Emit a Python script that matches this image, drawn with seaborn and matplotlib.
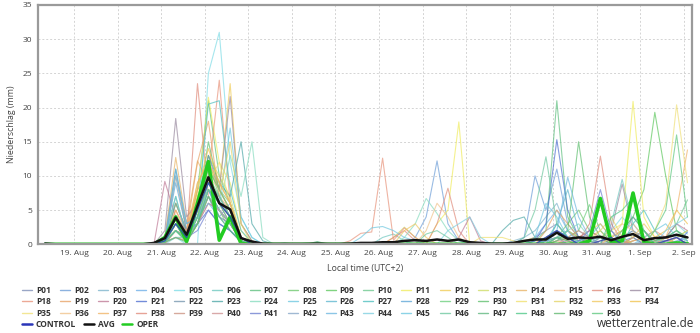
import numpy as np
import pandas as pd
import matplotlib
matplotlib.use("Agg")
import matplotlib.pyplot as plt
from matplotlib.lines import Line2D
import seaborn as sns

# ---------------- data (6-hourly steps, step 0 = 18 Aug 08:00 local) ----------------
n_steps = 60
start_time = "2025-08-18 08:00"

# each member: list of (first step index, values...) segments
P01 = [(0, [0.2]), (10, [0, 0.5, 3, 0.5, 4, 8, 5, 3, 0.5, 0, 0]), (22, [0.2]),
       (42, [0, 0, 0.5, 1, 2, 3, 1, 0.5, 0, 1, 2, 0.5, 0, 0, 1, 0.5, 0, 0])]
P02 = [(10, [0, 1, 11, 2, 3, 7, 4, 6, 1, 0.3, 0]), (34, [1, 4, 12.2, 3, 0.5]),
       (42, [0, 0, 1, 10, 5, 11, 3, 1, 0.5, 0, 0, 1, 2, 1, 0, 0, 0.5, 1])]
P03 = [(10, [0, 0.3, 1, 0.5, 4, 8, 5, 3, 0.5, 0, 0]),
       (42, [0, 0.5, 1, 2, 4, 6, 2, 1, 0, 0, 0.5, 1, 0, 0, 0, 1, 2, 1])]
P04 = [(10, [0, 0.3, 4, 2, 3, 7, 3, 2, 0.5, 0, 0]),
       (42, [0, 0, 0, 1, 3, 5, 2, 0.5, 1, 3, 1, 0, 0, 0.5, 1, 0, 0, 0])]
P05 = [(10, [0, 0, 1, 0, 0, 25, 31, 12, 4, 1, 0]),
       (42, [0, 0, 0, 0, 1, 2, 1, 0, 0.5, 1, 2, 4, 2, 0.5, 0, 1, 3, 1.5])]
P06 = [(10, [0, 0.3, 3, 1, 4, 8, 6, 4, 1, 0.3, 0]), (25, [0.3]), (31, [1, 1.5, 0.5]),
       (42, [0, 0, 0, 0.5, 1, 2, 0.5, 0, 0, 0, 3, 9.5, 3, 1, 0, 0.5, 1, 0])]
P07 = [(10, [0, 1, 7, 1, 8, 21, 10, 6, 1, 0, 0]),
       (42, [0, 0, 0, 0.5, 2, 21, 4, 1, 0.5, 0, 0, 0, 0.5, 1, 0, 0, 0, 0])]
P08 = [(10, [0, 0.3, 2, 0.5, 3, 10, 7, 4, 0.5, 0, 0]),
       (42, [0, 0, 0, 0, 0.5, 1, 3, 5, 2, 1, 0, 0, 1, 2, 0.5, 0, 1, 2])]
P09 = [(10, [0, 0.3, 3, 0.3, 3, 8, 5, 2, 0.5, 0, 0]),
       (42, [0, 0, 0, 0, 0, 1, 0.5, 0, 0, 0, 1, 2, 4, 8, 19.3, 10, 2, 0.5])]
P10 = [(10, [0, 0.5, 6, 2, 5, 12, 8, 6, 1, 0.3, 0]), (24, [0.2]),
       (42, [0, 0, 0, 0, 0.5, 1, 2, 1, 0, 0, 0, 1, 0, 0, 1, 1, 3, 6.5])]
P11 = [(10, [0, 0.5, 2, 1, 7, 21.5, 12, 9, 2, 0, 0]), (36, [3, 5, 17.9, 0]),
       (42, [0, 0, 0, 0, 0, 0.5, 1, 0.5, 0, 1, 2, 3, 20.9, 4, 1, 0, 0, 0])]
P12 = [(10, [0, 1, 6, 2, 9, 12, 8, 23.5, 3, 0.5, 0]),
       (42, [0, 0, 0.5, 1, 0.5, 0, 0, 1, 2, 3, 1, 0, 0.5, 1, 0, 0, 0, 0])]
P13 = [(10, [0, 0.3, 2, 1, 4, 13, 10, 7, 1, 0, 0]), (32, [1, 2.5, 1]),
       (42, [0, 0, 0, 0, 0, 1, 2, 1, 0, 0.5, 1, 2, 1, 0, 0, 0.5, 1, 0])]
P14 = [(10, [0, 1, 12.7, 3, 12.2, 9, 6, 4, 1, 0, 0]),
       (42, [0, 0, 0, 0, 1, 2, 0.5, 0, 1, 2, 0, 0, 0, 0, 0.5, 1, 0, 0])]
P15 = [(10, [0, 0.5, 6, 2, 5, 9, 6, 4, 1, 0, 0]),
       (42, [0, 0, 0, 0, 0, 0.5, 0, 0, 0, 0, 1, 2, 3, 1, 0, 0, 0, 0])]
P16 = [(10, [0, 0, 2, 1, 23.5, 7, 4, 3, 1, 0, 0]), (32, [1, 2, 0.5]),
       (42, [0, 0, 0, 0, 0, 1, 2, 0.5, 3, 12.9, 3, 0.5, 0, 0, 0, 0, 0, 0])]
P17 = [(10, [0, 2, 18.4, 4, 6, 13, 8, 21.6, 3, 0.5, 0]),
       (42, [0, 0, 0, 0, 0, 0.5, 1, 0, 0, 0, 2, 8.8, 2, 0.5, 0, 0, 1, 0])]
P18 = [(10, [0, 1, 5, 2, 8, 10, 24, 6, 1, 0, 0]), (28, [0.5, 1.6, 1.8, 12.6, 0.6, 2.4, 1, 0]),
       (42, [0, 0, 0, 0, 0.5, 1, 0, 0, 0, 0, 0, 0, 0.5, 1, 2, 1, 0, 0])]
P19 = [(10, [0, 0.5, 10, 2, 12, 18, 7, 5, 1, 0, 0]),
       (42, [0, 0, 0, 0, 2, 5, 3, 1, 0, 0, 0, 0, 0, 0, 0, 0, 0, 0])]
P20 = [(10, [0, 9.2, 4, 1, 3, 6, 5, 3, 0.5, 0, 0]), (38, [1, 4, 0.5]),
       (42, [0, 0, 0, 0, 0, 0, 0.5, 1, 2, 1, 0, 0, 0, 0, 0, 1, 3, 2])]
P21 = [(10, [0, 1, 4, 1, 3, 5, 3, 2, 0.5, 0, 0]),
       (42, [0, 0, 0, 0.5, 3, 15.3, 5, 1, 0, 0, 0, 0.5, 1, 0, 0, 0, 0, 1.8])]
P22 = [(10, [0, 0.3, 2, 1, 3, 7, 5, 3, 0.5, 0, 0]),
       (42, [0, 0, 0, 0, 1, 2, 1, 0, 0, 0, 0, 1, 2, 0.5, 0, 0, 0, 0])]
P23 = [(10, [0, 0.5, 6, 2, 5, 13, 9, 7, 15, 3, 0.5]),
       (42, [2, 3.5, 4, 1, 0, 0, 0, 0.5, 1, 0, 0, 0, 0, 0, 0, 0, 0, 0])]
P24 = [(10, [0, 0.3, 2, 1, 4, 7, 5, 13, 7, 15, 1]), (33, [1, 3, 6.7, 4.5, 2, 0.5]),
       (42, [0, 0, 0, 0, 0, 1, 2, 3, 1, 0, 0, 0, 0, 0, 0.5, 1, 2, 0.5])]
P25 = [(10, [0, 0.5, 7, 1, 3, 9, 6, 17, 4, 1, 0]), (29, [1, 2.4, 2.6, 2, 1, 0.5]),
       (42, [0, 0, 0, 1, 6, 4, 1, 0, 0, 0, 0, 0, 0, 1, 2, 3, 1, 0])]
P26 = [(10, [0, 0.5, 11, 3, 4, 8, 5, 3, 1, 0, 0]),
       (42, [0, 0, 0, 0, 0.5, 3, 8, 2, 1, 0, 0, 0, 0, 0, 0, 0, 0, 0])]
P27 = [(10, [0, 0.5, 4, 2, 5, 20.5, 21, 8, 2, 0.3, 0]),
       (42, [0, 0, 0, 0, 0, 3, 1, 0.5, 0, 0, 0, 0, 3, 5, 2, 0, 0, 0])]
P28 = [(10, [0, 0.5, 9, 2, 3, 8, 4, 3, 0.5, 0, 0]),
       (42, [0, 0, 0, 0, 0.5, 1, 0, 0, 0, 1, 0.5, 0, 0, 0, 0, 0.5, 1, 0.5])]
P29 = [(10, [0, 0.3, 3, 0.5, 4, 12, 7, 4, 0.5, 0, 0]),
       (42, [0, 0, 0, 0, 0, 1, 1, 2, 5.8, 2, 0.5, 0, 0, 0, 0, 0, 0, 0])]
P30 = [(10, [0, 0.5, 2, 0.3, 5, 15, 8, 5, 0.5, 0, 0]),
       (42, [0, 0, 0, 0, 0, 0.5, 2, 15, 4, 1, 0, 0, 0, 0, 0, 0, 0, 0])]
P31 = [(10, [0, 0.5, 2, 1, 5, 9, 12, 6, 1, 0, 0]), (40, [1, 1]),
       (42, [1, 0.5, 0, 0, 0, 0, 0, 0, 0, 0, 0, 0, 0, 0, 0, 0, 1, 2])]
P32 = [(10, [0, 0.3, 1, 1, 4, 8, 7, 15, 3, 0, 0]),
       (42, [0, 0, 0, 0, 0, 0, 0, 0, 0.5, 2, 4, 1, 0, 0, 0, 0, 0, 0])]
P33 = [(10, [0, 0.5, 3, 2, 7, 11, 8, 5, 1, 0, 0]), (33, [2, 3, 1]),
       (42, [0, 0, 0, 0, 0, 0, 0, 0, 0, 0, 0, 0, 1, 3, 1, 0, 0, 0])]
P34 = [(10, [0, 0.5, 4, 1, 8, 14, 9, 6, 1, 0, 0]),
       (42, [0, 0, 0, 0, 0, 0, 0, 0, 0, 0, 0, 0, 0, 0, 1, 2, 5, 3])]
P35 = [(10, [0, 0.3, 1, 0.5, 3, 7, 5, 3, 0.5, 0, 0]),
       (42, [0, 0, 0, 0, 0, 0, 0, 0, 0, 0, 0, 0, 0, 0, 2, 6, 20.4, 9])]
P36 = [(10, [0, 0.5, 3, 1, 6, 10, 8, 5, 1, 0, 0]), (35, [2, 6, 4, 1]),
       (42, [0, 0, 0, 0, 0, 0, 0, 0, 0, 0, 1, 3, 2, 0, 0, 0, 0, 0])]
P37 = [(10, [0, 0.5, 5, 1, 9, 12, 9, 6, 1, 0, 0]),
       (42, [0, 0, 0, 0, 0, 0, 0, 0, 0, 0, 0, 0, 0, 0, 0, 1, 5, 13.8])]
P38 = [(10, [0, 0.5, 4, 2, 6, 9, 7, 4, 1, 0, 0]), (36, [3, 8.2, 2, 0]),
       (42, [0, 0, 0, 0, 0, 0, 1, 2, 1, 0, 0, 0, 0, 0, 0, 0, 0, 0])]
P39 = [(10, [0, 0.3, 2, 1, 4, 8, 6, 3, 0.5, 0, 0]),
       (42, [0, 0, 0, 0, 0, 0, 0, 0, 0, 0, 0, 0, 1, 2, 0.5, 0, 0, 0])]
P40 = [(10, [0, 0.3, 1, 0.5, 3, 6, 5, 3, 0.5, 0, 0]),
       (42, [0, 0, 0, 0, 0, 0, 0, 0, 0, 0, 0, 0, 0, 0, 0, 0.5, 1, 0])]
P41 = [(10, [0, 0.5, 3, 1, 2, 5, 3, 2, 0.3, 0, 0]),
       (42, [0, 0, 0, 0, 0, 0, 0, 0.5, 2, 8, 2, 0, 0, 0, 0, 0, 0, 0])]
P42 = [(10, [0, 0.5, 2, 1, 4, 7, 5, 3, 0.5, 0, 0]),
       (42, [0, 0, 0, 0, 0, 0, 0, 0, 0, 0, 0, 1, 4, 2, 0, 0, 0, 0])]
P43 = [(10, [0, 0.5, 10, 3, 4, 6, 4, 2, 0.5, 0, 0]),
       (42, [0, 0, 0, 0, 0, 2, 9.8, 4, 1, 0, 0, 0, 0, 0, 0, 0, 0, 0])]
P44 = [(10, [0, 0.3, 1, 1, 4, 8, 6, 4, 0.5, 0, 0]), (37, [2, 3, 4, 1]),
       (42, [0, 0, 0, 0, 0, 0, 0, 0, 0, 0, 0, 0, 0, 0, 0, 2, 3, 4])]
P45 = [(10, [0, 0.5, 3, 1, 5, 9, 7, 4, 1, 0, 0]),
       (42, [0, 0, 0, 0, 0, 1, 2, 0, 0, 0, 0, 0, 0, 0, 1, 0, 0, 0])]
P46 = [(10, [0, 0.3, 2, 0.5, 4, 9, 7, 4, 0.5, 0, 0]), (35, [1.5, 2, 1]),
       (42, [0, 0, 1, 5, 12.8, 3, 1, 0, 0, 0, 0, 0, 0, 0, 0, 0, 0, 0])]
P47 = [(10, [0, 0.5, 3, 0.5, 5, 11, 8, 5, 1, 0, 0]), (25, [0.4]),
       (42, [0, 0, 0, 0, 0, 1, 0.5, 0, 0, 0, 0, 2, 4, 2, 0, 0, 0, 0])]
P48 = [(10, [0, 0.3, 2, 0.5, 3, 8, 6, 3, 0.5, 0, 0]),
       (42, [0, 0, 0, 0, 0, 0, 0, 0, 0, 0, 4, 5, 6.8, 2, 0, 0, 0, 0])]
P49 = [(10, [0, 0.3, 1, 0.3, 3, 7, 4, 2, 0.3, 0, 0]),
       (42, [0, 0, 0, 0, 0, 0, 0, 0, 0, 0, 0, 0, 0, 0, 0.5, 1, 2, 1])]
P50 = [(10, [0, 0.3, 3, 0.5, 4, 9, 6, 4, 0.5, 0, 0]),
       (42, [0, 0, 0, 0, 0, 0, 0, 0, 0, 0, 0, 0, 0, 0, 2, 5, 16, 4])]

CONTROL = [(10, [0, 0.5, 3, 1, 5, 9, 6, 4, 1, 0, 0]),
           (42, [0, 0, 0, 0, 1, 2, 1, 0, 0, 0.5, 1, 0, 0, 0, 0, 0.5, 1, 0])]
OPER = [(10, [0, 1, 4.0, 0.4, 6, 12.1, 0.6, 4.0, 0.1, 0]),
        (49, [0, 0.5, 6.7, 0.3, 0.5, 7.5, 0.3, 0, 0, 0.2, 0.1])]
AVG = [0.1, 0, 0, 0, 0, 0, 0, 0, 0, 0,
       0.2, 0.9, 3.9, 1.4, 5.6, 9.8, 6.0, 5.1, 0.9, 0.4,
       0.1, 0.05, 0.05, 0.05, 0.05, 0.1, 0.05, 0.05, 0.1, 0.2,
       0.2, 0.3, 0.3, 0.5, 0.6, 0.5, 0.7, 0.5, 0.7, 0.3,
       0.2, 0.1, 0.1, 0.2, 0.5, 0.7, 0.7, 1.7, 0.8, 1.0,
       0.9, 1.1, 0.6, 1.1, 1.5, 0.6, 0.9, 1.0, 1.4, 1.0]

member_names = [f"P{i:02d}" for i in range(1, 51)]
member_data = [P01, P02, P03, P04, P05, P06, P07, P08, P09, P10,
               P11, P12, P13, P14, P15, P16, P17, P18, P19, P20,
               P21, P22, P23, P24, P25, P26, P27, P28, P29, P30,
               P31, P32, P33, P34, P35, P36, P37, P38, P39, P40,
               P41, P42, P43, P44, P45, P46, P47, P48, P49, P50]
member_colors = ["#8090b8", "#6f9fd8", "#7fb5cc", "#6fb0e8", "#80dce6", "#70c8c0", "#60c080",
                 "#70c870", "#60c860", "#70c890", "#f0ec60", "#f0cc58", "#cfdc68", "#e8b468",
                 "#f0bc8c", "#e08c7c", "#9a8aa0", "#e8947c", "#e8a468", "#c07c98", "#5070d0",
                 "#7898b0", "#50a8a8", "#88dcc0", "#70c8e0", "#60b8d0", "#50c0c0", "#60a8d8",
                 "#70d080", "#60c070", "#f0e070", "#e4d468", "#f0c860", "#f0c450", "#f0e07a",
                 "#f0c48c", "#f0b468", "#e08c7c", "#cc9484", "#d09494", "#7080d0", "#88a8c8",
                 "#70b8e0", "#80d0e0", "#70c8e0", "#70c8a0", "#60b880", "#50c888", "#60b870",
                 "#60c880"]

tick_labels = ["19. Aug", "20. Aug", "21. Aug", "22. Aug", "23. Aug", "24. Aug", "25. Aug",
               "26. Aug", "27. Aug", "28. Aug", "29. Aug", "30. Aug", "31. Aug", "1. Sep", "2. Sep"]
tick_dates = pd.date_range("2025-08-19", periods=len(tick_labels), freq="D")
y_ticks = [0, 5, 10, 15, 20, 25, 30, 35]

# ---------------- build long table ----------------
times = pd.date_range(start_time, periods=n_steps, freq="6h")


def expand(segments):
    arr = np.zeros(n_steps)
    for s, vals in segments:
        arr[s:s + len(vals)] = vals
    return arr


rows = []
for name, seg in zip(member_names, member_data):
    vals = expand(seg)
    rows.append(pd.DataFrame({"time": times, "value": vals, "member": name}))
df = pd.concat(rows, ignore_index=True)
df_ctrl = pd.DataFrame({"time": times, "value": expand(CONTROL)})
df_oper = pd.DataFrame({"time": times, "value": expand(OPER)})
df_avg = pd.DataFrame({"time": times, "value": AVG})

# ---------------- plot ----------------
sns.set_theme(style="white")
plt.rcParams["font.family"] = ["Open Sans", "DejaVu Sans"]

fig = plt.figure(figsize=(7, 3.33), dpi=100)
ax = fig.add_axes([0.054, 0.2664, 0.9346, 0.7186])

palette = dict(zip(member_names, member_colors))
sns.lineplot(data=df, x="time", y="value", hue="member", palette=palette,
             estimator=None, legend=False, lw=0.8, alpha=0.7, ax=ax)
sns.lineplot(data=df_oper, x="time", y="value", color="#22cc22", lw=2.6, ax=ax)
sns.lineplot(data=df_ctrl, x="time", y="value", color="#2a35b8", lw=0.9, alpha=0.8, ax=ax)
sns.lineplot(data=df_avg, x="time", y="value", color="#111111", lw=1.8, ax=ax)

ax.set_xlim(pd.Timestamp("2025-08-18 04:00"), pd.Timestamp("2025-09-02 04:30"))
ax.set_ylim(0, 35)
ax.set_xticks(tick_dates)
ax.set_xticklabels(tick_labels, fontsize=6.0, color="#444444")
ax.set_yticks(y_ticks)
ax.set_yticklabels([str(v) for v in y_ticks], fontsize=6.0, color="#444444")
ax.tick_params(axis="both", length=0, pad=4)
ax.set_xlabel("Local time (UTC+2)", fontsize=6.3, color="#444444", labelpad=5)
ax.set_ylabel("Niederschlag (mm)", fontsize=6.3, color="#444444", labelpad=5)
ax.grid(True, color="#d4d4d4", lw=0.7, ls=(0, (2, 2)))
for sp in ax.spines.values():
    sp.set_color("#9a9a9a")
    sp.set_linewidth(1.6)

# legend for members: 17 columns, row-major order
order = []
for c in range(17):
    for r in range(3):
        idx = c + 17 * r
        if idx < 50:
            order.append(idx)
handles = [Line2D([], [], color=member_colors[i], lw=1.0, alpha=0.8) for i in order]
labels = [member_names[i] for i in order]
leg1 = fig.legend(handles, labels, ncol=17, loc="upper left", bbox_to_anchor=(0.031, 0.142),
                  frameon=False, prop={"size": 6.0, "weight": "bold"}, handlelength=1.2,
                  handletextpad=0.5, columnspacing=1.08, labelspacing=0.3, borderpad=0,
                  borderaxespad=0, labelcolor="#333333")
h2 = [Line2D([], [], color="#2a35b8", lw=1.8), Line2D([], [], color="#111111", lw=1.8),
      Line2D([], [], color="#22cc22", lw=1.8)]
leg2 = fig.legend(h2, ["CONTROL", "AVG", "OPER"], ncol=3, loc="upper left",
                  bbox_to_anchor=(0.031, 0.04), frameon=False,
                  prop={"size": 6.0, "weight": "bold"}, handlelength=1.2, handletextpad=0.5,
                  columnspacing=0.9, borderpad=0, borderaxespad=0, labelcolor="#333333")

fig.text(0.992, 0.008, "wetterzentrale.de", ha="right", va="bottom", fontsize=8.5,
         color="#333333")

fig.savefig("out.png", dpi=100)
